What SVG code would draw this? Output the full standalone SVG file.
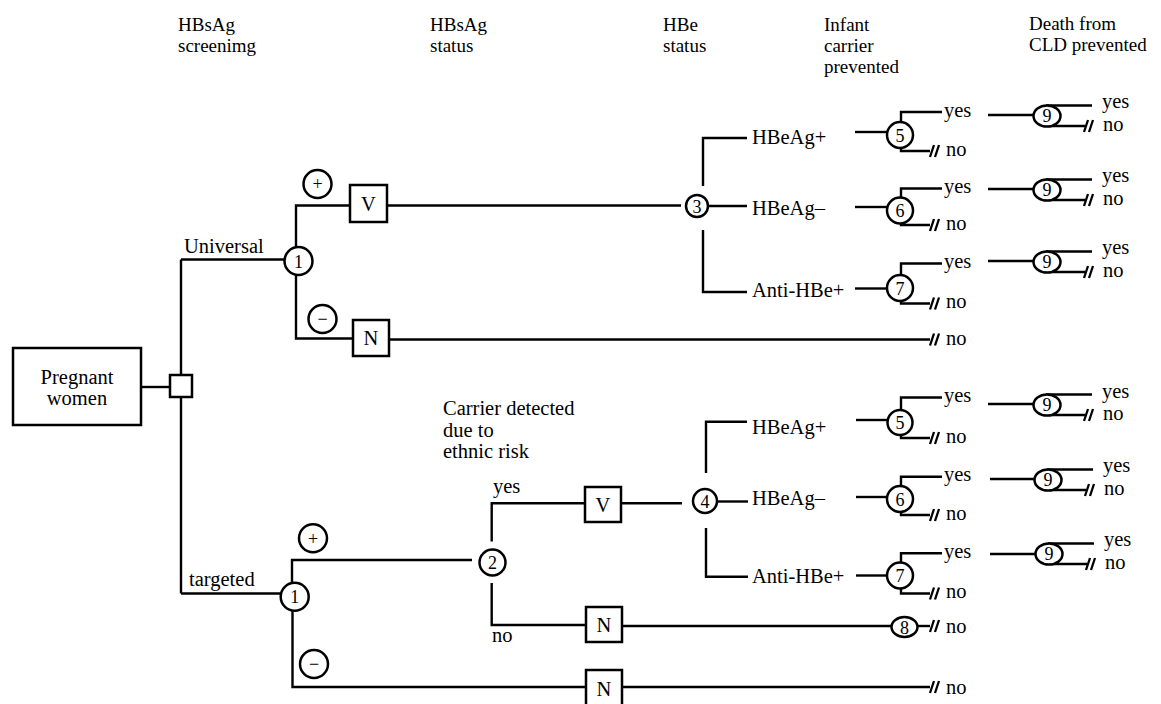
<svg xmlns="http://www.w3.org/2000/svg" xmlns:xlink="http://www.w3.org/1999/xlink" width="1161" height="704" viewBox="0 0 1161 704">
<style>
.t{font-family:"Liberation Serif","Times New Roman",serif;font-size:20.5px;fill:#000}
.hd{font-family:"Liberation Serif","Times New Roman",serif;font-size:19px;fill:#000}
.d{font-family:"Liberation Serif","Times New Roman",serif;font-size:18px;fill:#000;text-anchor:middle}
.m{text-anchor:middle}
.ln{fill:none;stroke:#000;stroke-width:2.4}
.nd{fill:#fff;stroke:#000;stroke-width:2.5}
.h{fill:none;stroke:#000;stroke-width:2.3}
</style>
<defs>
<path id="hatch" class="h" d="M-5,6 L-1,-6 M0,6 L4,-6"/>
</defs>
<rect width="1161" height="704" fill="#fff"/>

<g id="headers" class="hd">
<text x="178" y="31">HBsAg</text><text x="178" y="52">screenimg</text>
<text x="430" y="31">HBsAg</text><text x="430" y="52">status</text>
<text x="663" y="31">HBe</text><text x="663" y="52">status</text>
<text x="824" y="31">Infant</text><text x="824" y="52">carrier</text><text x="824" y="73">prevented</text>
<text x="1029" y="30">Death from</text><text x="1029" y="51">CLD prevented</text>
</g>

<g id="connectors">
<path class="ln" d="M141,387 H170"/>
<path class="ln" d="M181,259.5 V593.5"/>
<path class="ln" d="M181,259.5 H284.5"/>
<path class="ln" d="M181,593.5 H281"/>
<path class="ln" d="M296,247 V205.5 H350"/>
<path class="ln" d="M296,275 V338.5 H353"/>
<path class="ln" d="M387,205.5 H681"/>
<path class="ln" d="M389,339.5 H930"/>
<path class="ln" d="M747,138 H703 V186"/>
<path class="ln" d="M703,230 V292 H747"/>
<path class="ln" d="M708,206 H747"/>
<path class="ln" d="M292,583 V560 H472"/>
<path class="ln" d="M292.5,610.5 V687 H930"/>
<path class="ln" d="M491.7,541.5 V503.3 H585"/>
<path class="ln" d="M491.7,583 V625 H586"/>
<path class="ln" d="M621,503.3 H682"/>
<path class="ln" d="M622,626 H891"/>
<path class="ln" d="M918,626 H930"/>
<path class="ln" d="M747,421.7 H706 V473"/>
<path class="ln" d="M706,528 V576.7 H748"/>
<path class="ln" d="M717,501.5 H748"/>
<path class="ln" d="M855,132 H887"/>
<path class="ln" d="M901,122 V112 H942"/>
<path class="ln" d="M901,148 V151 H930"/>
<path class="ln" d="M988,115 H1033.5"/>
<path class="ln" d="M1046,105.5 H1092"/>
<path class="ln" d="M1050,126 H1085"/>
<path class="ln" d="M855,207 H887"/>
<path class="ln" d="M901,197.5 V188.5 H942"/>
<path class="ln" d="M901,223.5 V225 H930"/>
<path class="ln" d="M988,189 H1033.5"/>
<path class="ln" d="M1046,179.5 H1092"/>
<path class="ln" d="M1050,200 H1085"/>
<path class="ln" d="M855,288.5 H887"/>
<path class="ln" d="M901,275 V263.5 H942"/>
<path class="ln" d="M901,301 V303.5 H930"/>
<path class="ln" d="M988,261 H1033.5"/>
<path class="ln" d="M1046,251.5 H1092"/>
<path class="ln" d="M1050,272 H1085"/>
<path class="ln" d="M856,420 H887"/>
<path class="ln" d="M901,409.5 V397.5 H942"/>
<path class="ln" d="M901,435 V438 H930"/>
<path class="ln" d="M988,404 H1033.5"/>
<path class="ln" d="M1046,394.5 H1092"/>
<path class="ln" d="M1050,415 H1085"/>
<path class="ln" d="M856,497 H887"/>
<path class="ln" d="M901,486 V476.7 H942"/>
<path class="ln" d="M901,512 V515 H930"/>
<path class="ln" d="M990,479 H1034.5"/>
<path class="ln" d="M1047,469.5 H1093"/>
<path class="ln" d="M1051,490 H1086"/>
<path class="ln" d="M856,575.5 H887"/>
<path class="ln" d="M901,562.5 V553.3 H942"/>
<path class="ln" d="M901,588.5 V593.5 H930"/>
<path class="ln" d="M990,554 H1035.5"/>
<path class="ln" d="M1048,543.5 H1094"/>
<path class="ln" d="M1052,564 H1087"/>
<use xlink:href="#hatch" x="935" y="339.5"/>
<use xlink:href="#hatch" x="935" y="626"/>
<use xlink:href="#hatch" x="935" y="687"/>
<use xlink:href="#hatch" x="935" y="151"/>
<use xlink:href="#hatch" x="935" y="225"/>
<use xlink:href="#hatch" x="935" y="303.5"/>
<use xlink:href="#hatch" x="935" y="438"/>
<use xlink:href="#hatch" x="935" y="515"/>
<use xlink:href="#hatch" x="935" y="593.5"/>
<use xlink:href="#hatch" x="1089" y="126"/>
<use xlink:href="#hatch" x="1089" y="200"/>
<use xlink:href="#hatch" x="1089" y="272"/>
<use xlink:href="#hatch" x="1089" y="415"/>
<use xlink:href="#hatch" x="1090" y="490"/>
<use xlink:href="#hatch" x="1091" y="564"/>
</g>

<g id="edge-labels" class="t">
<text x="184" y="253">Universal</text>
<text x="189" y="586">targeted</text>
<text x="493" y="493">yes</text>
<text x="492" y="642">no</text>
<text x="443" y="415">Carrier detected</text>
<text x="443" y="436.5">due to</text>
<text x="443" y="458">ethnic risk</text>
<text x="752" y="144">HBeAg+</text>
<text x="752" y="215">HBeAg–</text>
<text x="752" y="297">Anti-HBe+</text>
<text x="752" y="433.5">HBeAg+</text>
<text x="752" y="505">HBeAg–</text>
<text x="752" y="583.3">Anti-HBe+</text>
<text x="946" y="345">no</text>
<text x="946" y="632.5">no</text>
<text x="946" y="693.5">no</text>
<text x="944" y="116.5">yes</text><text x="946" y="155.5">no</text>
<text x="944" y="193">yes</text><text x="946" y="229.5">no</text>
<text x="944" y="268">yes</text><text x="946" y="308">no</text>
<text x="944" y="402">yes</text><text x="946" y="442.5">no</text>
<text x="944" y="481">yes</text><text x="946" y="519.5">no</text>
<text x="944" y="557.5">yes</text><text x="946" y="598">no</text>
<text x="1102" y="107.5">yes</text><text x="1103" y="131">no</text>
<text x="1102" y="181.5">yes</text><text x="1103" y="205">no</text>
<text x="1102" y="253.5">yes</text><text x="1103" y="277">no</text>
<text x="1102" y="397.5">yes</text><text x="1103" y="420">no</text>
<text x="1103" y="471.5">yes</text><text x="1104" y="495">no</text>
<text x="1104" y="545.5">yes</text><text x="1105" y="569">no</text>
</g>

<g id="pregnant"><rect class="nd" x="13" y="348" width="128" height="77"/><text class="t m" x="77" y="384">Pregnant</text><text class="t m" x="77" y="405">women</text></g>
<g id="decision"><rect class="nd" x="170" y="375" width="22" height="22"/></g>

<g id="chanceU1"><circle class="nd" cx="298.5" cy="261" r="14"/><text class="d" x="298.5" y="267.5">1</text></g>
<g id="plusU"><circle class="nd" cx="317.5" cy="184" r="14"/><text class="d" x="317.5" y="190">+</text></g>
<g id="minusU"><circle class="nd" cx="322.5" cy="319" r="14"/><text class="d" x="322.5" y="325">−</text></g>
<g id="vaccU"><rect class="nd" x="350" y="185" width="37" height="37"/><text class="t m" x="368.5" y="211">V</text></g>
<g id="noneU"><rect class="nd" x="353" y="320" width="36" height="36"/><text class="t m" x="371" y="345">N</text></g>
<g id="chance3"><circle class="nd" cx="697" cy="206" r="11"/><text class="d" x="697" y="212.5">3</text></g>

<g id="chanceT1"><circle class="nd" cx="294.7" cy="596.7" r="14"/><text class="d" x="294.7" y="603">1</text></g>
<g id="plusT"><circle class="nd" cx="313" cy="538.3" r="14"/><text class="d" x="313" y="544.5">+</text></g>
<g id="minusT"><circle class="nd" cx="314" cy="664" r="14"/><text class="d" x="314" y="670">−</text></g>
<g id="chance2"><circle class="nd" cx="492.5" cy="562.5" r="13"/><text class="d" x="492.5" y="569">2</text></g>
<g id="vaccT"><rect class="nd" x="585" y="487" width="36" height="35"/><text class="t m" x="603" y="511.5">V</text></g>
<g id="noneT1"><rect class="nd" x="586" y="607" width="36" height="35"/><text class="t m" x="604" y="632">N</text></g>
<g id="noneT2"><rect class="nd" x="586" y="670" width="36" height="36"/><text class="t m" x="604" y="696">N</text></g>
<g id="chance4"><circle class="nd" cx="705" cy="501" r="12"/><text class="d" x="705" y="507.5">4</text></g>
<g id="chance8"><ellipse class="nd" cx="904.5" cy="627" rx="13" ry="10"/><text class="d" x="904.5" y="633.5">8</text></g>

<g id="chanceU5"><circle class="nd" cx="900" cy="135" r="13"/><text class="d" x="900" y="141.5">5</text></g>
<g id="chanceU6"><circle class="nd" cx="900" cy="210.5" r="13"/><text class="d" x="900" y="217">6</text></g>
<g id="chanceU7"><circle class="nd" cx="900" cy="288" r="13"/><text class="d" x="900" y="294.5">7</text></g>
<g id="chanceT5"><circle class="nd" cx="900" cy="422.5" r="12.5"/><text class="d" x="900" y="429">5</text></g>
<g id="chanceT6"><circle class="nd" cx="900" cy="499" r="13"/><text class="d" x="900" y="505.5">6</text></g>
<g id="chanceT7"><circle class="nd" cx="900" cy="575.5" r="13"/><text class="d" x="900" y="582">7</text></g>

<g id="chanceU9a"><ellipse class="nd" cx="1047" cy="116" rx="13.5" ry="10.5"/><text class="d" x="1047" y="122">9</text></g>
<g id="chanceU9b"><ellipse class="nd" cx="1047" cy="190" rx="13.5" ry="10.5"/><text class="d" x="1047" y="196">9</text></g>
<g id="chanceU9c"><ellipse class="nd" cx="1047" cy="262" rx="13.5" ry="10.5"/><text class="d" x="1047" y="268">9</text></g>
<g id="chanceT9a"><ellipse class="nd" cx="1047" cy="405" rx="13.5" ry="10.5"/><text class="d" x="1047" y="411">9</text></g>
<g id="chanceT9b"><ellipse class="nd" cx="1048" cy="480" rx="13.5" ry="10.5"/><text class="d" x="1048" y="486">9</text></g>
<g id="chanceT9c"><ellipse class="nd" cx="1049" cy="554" rx="13.5" ry="10.5"/><text class="d" x="1049" y="560">9</text></g>
</svg>
